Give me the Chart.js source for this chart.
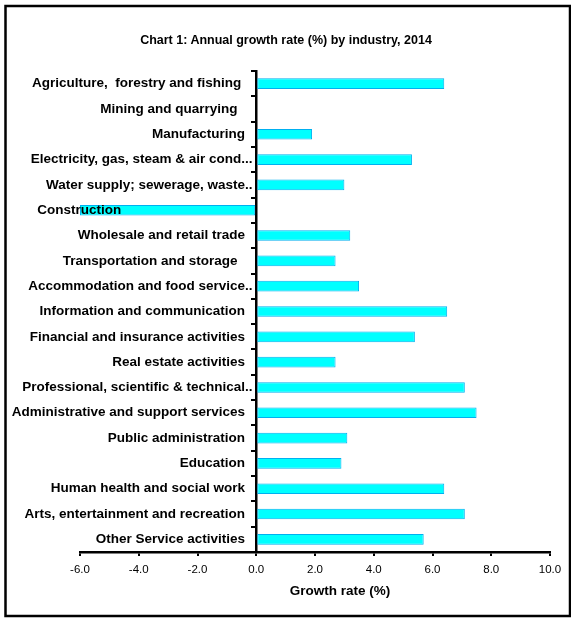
<!DOCTYPE html>
<html>
<head>
<meta charset="utf-8">
<script src="https://cdn.jsdelivr.net/npm/chart.js@4"></script>
<style>
  body { margin: 0; background: #fff; }
  #wrap { position: absolute; left: 0; top: 0; width: 571px; height: 618px; }
  .rotulo { position: absolute; font-family: 'Liberation Sans', Arial, sans-serif; font-weight: bold; color: #000; white-space: nowrap; transform: translate(-50%, -50%); }
  #titulo { left: 286px; top: 40px; font-size: 12.5px; }
  #tituloEixo { left: 340px; top: 590px; font-size: 13.5px; }
</style>
</head>
<body>
<div id="wrap">
  <canvas id="grafico" width="571" height="618"></canvas>
  <div id="titulo" class="rotulo"></div>
  <div id="tituloEixo" class="rotulo"></div>
</div>
<script>
// industrias (categorias)
const industrias = [
  'Agriculture,  forestry and fishing',
  'Mining and quarrying',
  'Manufacturing',
  'Electricity, gas, steam & air cond...',
  'Water supply; sewerage, waste..',
  'Construction',
  'Wholesale and retail trade',
  'Transportation and storage',
  'Accommodation and food service..',
  'Information and communication',
  'Financial and insurance activities',
  'Real estate activities',
  'Professional, scientific & technical..',
  'Administrative and support services',
  'Public administration',
  'Education',
  'Human health and social work',
  'Arts, entertainment and recreation',
  'Other Service activities'
];

// taxa de crescimento anual (%) 2014
const crescimento = [6.4, 0, 1.9, 5.3, 3.0, -6.0, 3.2, 2.7, 3.5, 6.5, 5.4, 2.7, 7.1, 7.5, 3.1, 2.9, 6.4, 7.1, 5.7];

// eixo x
const eixoMin = -6;
const eixoMax = 10;
const eixoPasso = 2;

const titulo = 'Chart 1: Annual growth rate (%) by industry, 2014';
const tituloEixo = 'Growth rate (%)';

document.getElementById('titulo').textContent = titulo;
document.getElementById('tituloEixo').textContent = tituloEixo;

// moldura em volta do grafico
const moldura = {
  id: 'moldura',
  afterDraw(chart) {
    const c = chart.ctx;
    c.save();
    c.strokeStyle = '#000';
    c.lineWidth = 2.5;
    c.strokeRect(5.5, 6, 564.5, 610);
    c.restore();
  }
};

// quantos espacos depois do rotulo (igual ao excel original)
function espacos(txt) {
  if (txt === 'Construction') return 36;
  if (txt.startsWith('Mining') || txt.startsWith('Transportation')) return 5;
  if (txt.startsWith('Agriculture')) return 4;
  if (txt.endsWith('.')) return 1;
  return 3;
}

const ctx = document.getElementById('grafico');

new Chart(ctx, {
  type: 'bar',
  data: {
    labels: industrias,
    datasets: [{
      data: crescimento,
      backgroundColor: '#00FFFF',
      borderColor: '#00B0F0',
      borderWidth: 1,
      borderSkipped: false,
      barPercentage: 0.42,
      categoryPercentage: 1
    }]
  },
  options: {
    indexAxis: 'y',
    responsive: false,
    animation: false,
    layout: { padding: { left: 80, right: 21, top: 71, bottom: 0 } },
    plugins: {
      legend: { display: false },
      tooltip: { enabled: false }
    },
    scales: {
      x: {
        min: eixoMin,
        max: eixoMax,
        afterFit: function(scale) { scale.height = 66; },
        ticks: {
          stepSize: eixoPasso,
          color: '#000',
          padding: 7,
          font: { family: 'Liberation Sans', size: 11.5 },
          callback: function(v) { return Number(v).toFixed(1); }
        },
        grid: { drawOnChartArea: false, tickLength: 4, color: '#000', lineWidth: 2 },
        border: { display: true, color: '#000', width: 2.5 }
      },
      y: {
        position: { x: 0 },
        ticks: {
          z: 1,
          color: '#000',
          autoSkip: false,
          font: { family: 'Liberation Sans', size: 13.5, weight: 'bold' },
          callback: function(v, i) {
            const txt = industrias[i];
            return txt + ' '.repeat(espacos(txt));
          }
        },
        grid: { drawOnChartArea: false, offset: true, tickLength: 4, color: '#000', lineWidth: 2 },
        border: { display: true, color: '#000', width: 2.5 }
      }
    }
  },
  plugins: [moldura]
});
</script>
</body>
</html>
